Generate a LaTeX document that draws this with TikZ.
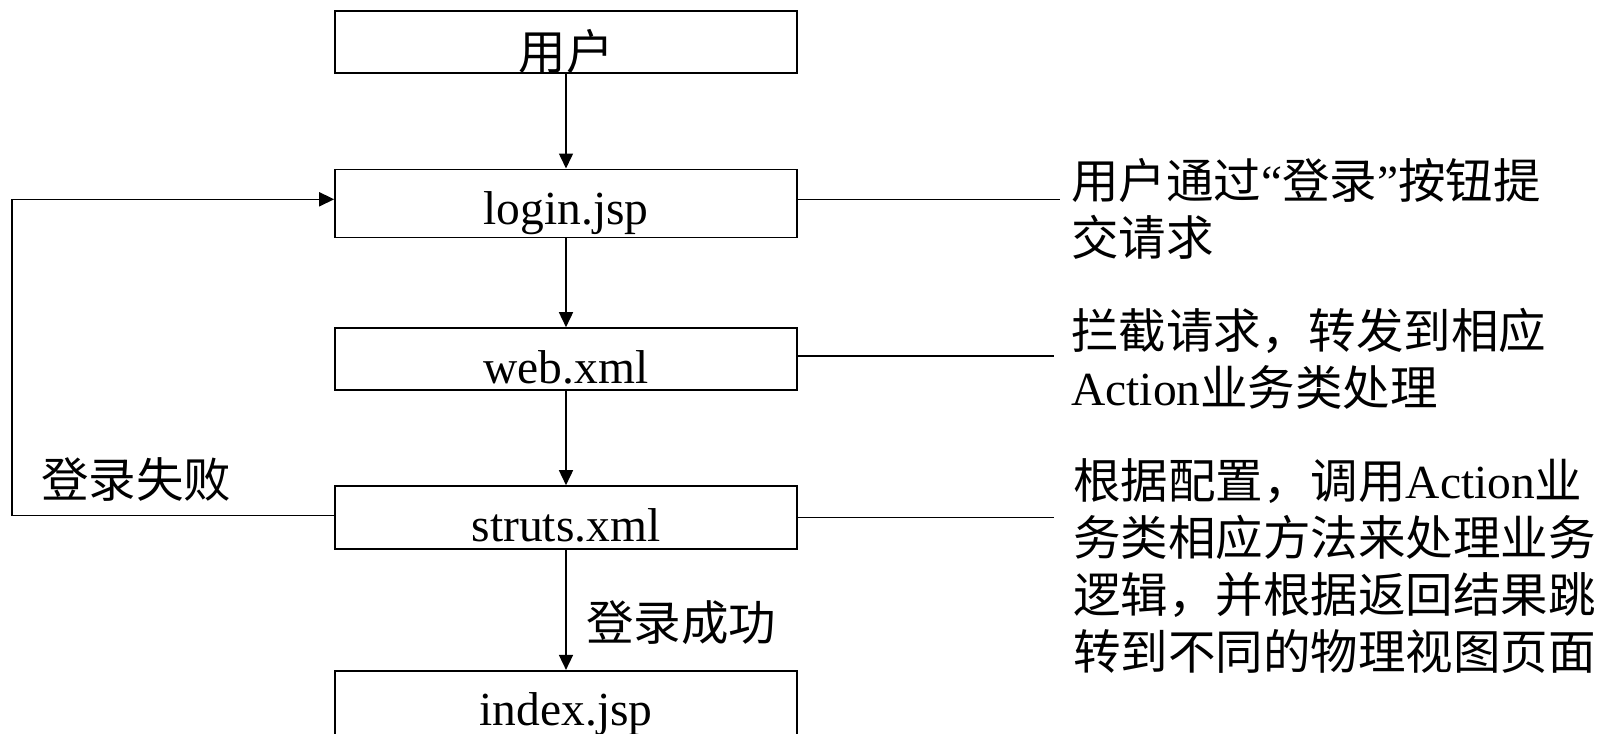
\documentclass[tikz,border=0pt]{standalone}
\usepackage{fontspec}
\setmainfont{Liberation Serif}
\newfontfamily\cjk{Noto Sans CJK SC}
\usetikzlibrary{arrows.meta}
\begin{document}
\begin{tikzpicture}[x=1pt,y=-1pt,
  box/.style={draw, line width=1.6pt, minimum width=462pt, inner xsep=0pt, inner ysep=0pt, anchor=base, font=\fontsize{47.5}{57}\selectfont},
  lbl/.style={inner sep=0pt, anchor=base west, font=\fontsize{47.5}{57}\selectfont},
  conn/.style={line width=1.6pt},
  arr/.style={conn, -{Triangle[length=15pt,width=14pt]}}]
\useasboundingbox (0,0) rectangle (1610,734);
\clip (0,0) rectangle (1610,734);
% boxes
\node[box, text height=58.8pt, text depth=3.2pt] (u) at (566,69.5) {\cjk 用户};
\node[box, text height=55pt, text depth=13pt] (l) at (566,224.3) {login.jsp};
\node[box, text height=55pt, text depth=7pt] (w) at (566,383) {web.xml};
\node[box, text height=55pt, text depth=7.7pt] (s) at (566,541) {struts.xml};
\node[box, text height=55pt, text depth=20pt] (i) at (566,725.7) {index.jsp};
% labels
\node[lbl] (fail) at (41,497) {\cjk 登录失败};
\node[lbl] (succ) at (586,640.5) {\cjk 登录成功};
% right-hand notes (anchor at the baseline of the last line)
\node[lbl, align=left] (t1) at (1071,255) {{\cjk 用户通过}“{\cjk 登录}”{\cjk 按钮提}\\{\cjk 交请求}};
\node[lbl, align=left] (t2) at (1071,405) {{\cjk 拦截请求，转发到相应}\\Action{\cjk 业务类处理}};
\node[lbl, align=left] (t3) at (1073,669) {{\cjk 根据配置，调用}Action{\cjk 业}\\{\cjk 务类相应方法来处理业务}\\{\cjk 逻辑，并根据返回结果跳}\\{\cjk 转到不同的物理视图页面}};
% coordinates
\coordinate (lp) at (12,515);
\coordinate (r1) at (1060,199);
\coordinate (r2) at (1054,356);
\coordinate (r3) at (1054,517);
% connectors
\draw[arr] (u) -- (l);
\draw[arr] (l) -- (w);
\draw[arr] (w) -- (s);
\draw[arr] (s) -- (i);
\draw[arr] ([yshift=2pt]s.west) -- ([yshift=2pt]s.west -| lp) |- ([yshift=4pt]l.west);
\draw[conn] ([yshift=4pt]l.east) -- ([yshift=4pt]l.east -| r1);
\draw[conn] ([yshift=3pt]w.east) -- ([yshift=3pt]w.east -| r2);
\draw[conn] (s.east) -- (s.east -| r3);
\end{tikzpicture}
\end{document}
